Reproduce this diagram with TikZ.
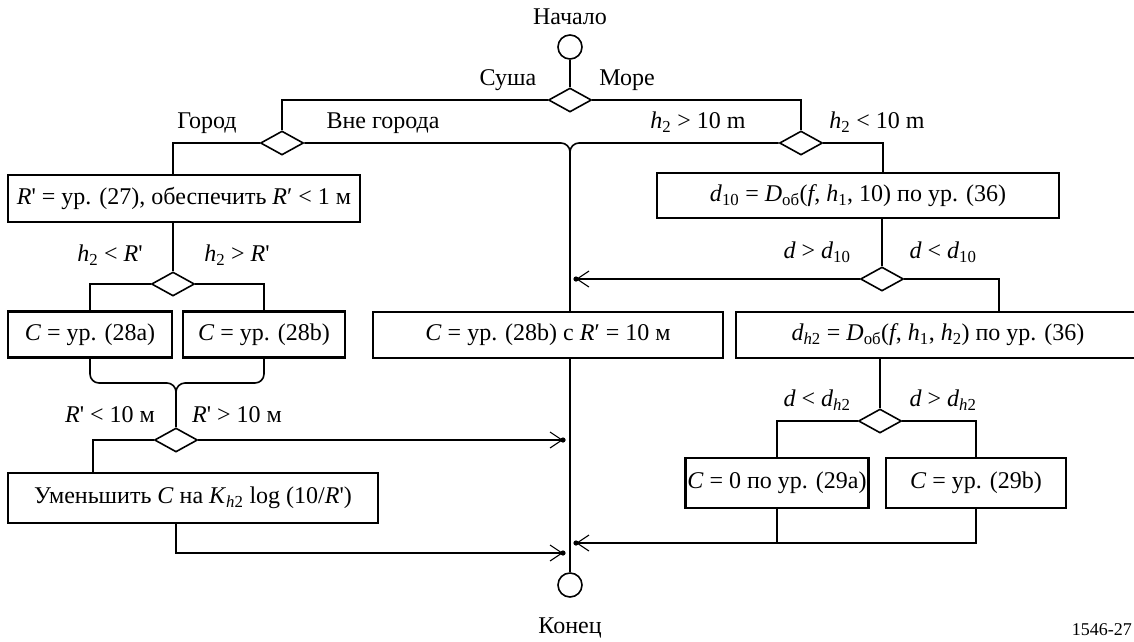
\documentclass[tikz,border=0pt]{standalone}
\usepackage{fontspec}
\setmainfont{Liberation Serif}
\usetikzlibrary{shapes.geometric,arrows.meta}
\newcommand{\lw}[1]{\textsubscript{#1}}
\newcommand{\iv}[1]{\textit{#1}}
\newcommand{\ap}{\textquotesingle}
\begin{document}
\begin{tikzpicture}[x=1pt,y=-1pt,
  font=\fontsize{24}{28}\selectfont,
  box/.style={draw,line width=2.1pt,inner sep=0pt,minimum height=46pt},
  dec/.style={draw,diamond,line width=1.6pt,inner sep=0pt,minimum width=43pt,minimum height=24pt},
  term/.style={draw,circle,line width=1.6pt,inner sep=0pt,minimum size=24pt},
  conn/.style={line width=1.6pt},
  arr/.style={conn,-{Straight Barb[length=12pt,width=16pt,line width=1.1pt]}},
  lbl/.style={inner sep=0pt}]
\useasboundingbox (0,0) rectangle (1134,641);
\clip (0,0) rectangle (1134,641);
% terminals
\node[term] (S) at (570,47) {};
\node[term] (E) at (570,585) {};
\node[lbl] (tS) at (570,17) {Начало};
\node[lbl] (tE) at (570,628) {Конец};
% decisions
\node[dec] (D1) at (570,100) {};
\node[dec] (D2) at (282,143) {};
\node[dec] (D3) at (801,143) {};
\node[dec] (D4) at (173,284) {};
\node[dec] (D5) at (176,440) {};
\node[dec] (D6) at (882,279) {};
\node[dec] (D7) at (880,421) {};
% boxes
\node[box,minimum width=352pt,minimum height=47pt] (B27) at (184,198.5) {\iv{R}\ap{} = ур. (27), обеспечить \iv{R}′ < 1 м};
\node[box,minimum width=164pt] (B28a) at (90,334.5) {\iv{C} = ур. (28a)};
\node[box,minimum width=162pt] (B28b) at (264,334.5) {\iv{C} = ур. (28b)};
\node[box,minimum width=370pt,minimum height=50pt] (BUm) at (193,498) {Уменьшить \iv{C} на \iv{K}\lw{\iv{h}2} log (10/\iv{R}\ap)};
\node[box,minimum width=350pt] (B28bR) at (548,335) {\iv{C} = ур. (28b) с \iv{R}′ = 10 м};
\node[box,minimum width=402pt,minimum height=45pt] (B10) at (858,195.5) {\iv{d}\lw{10} = \iv{D}\lw{об}(\iv{f}, \iv{h}\lw{1}, 10) по ур. (36)};
\node[box,minimum width=404pt] (Bdh) at (938,335) {\iv{d}\lw{\iv{h}2} = \iv{D}\lw{об}(\iv{f}, \iv{h}\lw{1}, \iv{h}\lw{2}) по ур. (36)};
\node[box,minimum width=183pt,minimum height=50pt] (B29a) at (777,483) {\iv{C} = 0 по ур. (29a)};
\node[box,minimum width=180pt,minimum height=50pt] (B29b) at (976,483) {\iv{C} = ур. (29b)};
% labels
\node[lbl] (l1) at (508,80) {Суша};
\node[lbl] (l2) at (627,80) {Море};
\node[lbl] (l3) at (207,123) {Город};
\node[lbl] (l4) at (383,123) {Вне города};
\node[lbl] (l5) at (698,122) {\iv{h}\lw{2} > 10 m};
\node[lbl] (l6) at (877,122) {\iv{h}\lw{2} < 10 m};
\node[lbl] (l7) at (110,255) {\iv{h}\lw{2} < \iv{R}\ap};
\node[lbl] (l8) at (237,255) {\iv{h}\lw{2} > \iv{R}\ap};
\node[lbl] (l9) at (110,415) {\iv{R}\ap{} < 10 м};
\node[lbl] (l10) at (237,415) {\iv{R}\ap{} > 10 м};
\node[lbl] (l11) at (817,252) {\iv{d} > \iv{d}\lw{10}};
\node[lbl] (l12) at (943,252) {\iv{d} < \iv{d}\lw{10}};
\node[lbl] (l13) at (817,400) {\iv{d} < \iv{d}\lw{\iv{h}2}};
\node[lbl] (l14) at (943,400) {\iv{d} > \iv{d}\lw{\iv{h}2}};
\node[lbl,anchor=east,font=\fontsize{18}{21}\selectfont] (fig) at (1132,630) {1546-27};
% junction and corner coordinates
\coordinate (J1) at (570,143);
\coordinate (J2) at (176,383);
\coordinate (K2) at (173,143);
\coordinate (K3) at (883,143);
\coordinate (K5) at (93,440);
\coordinate (K6) at (999,279);
\coordinate (A1) at (576,279);
\coordinate (A2) at (563,440);
\coordinate (A3) at (563,553);
\coordinate (A4) at (576,543);
% connectors
\draw[conn] (S) -- (D1.north);
\draw[conn] (D1.west) -| (D2.north);
\draw[conn] (D1.east) -| (D3.north);
\draw[conn] (D2.west) -- (K2) -- (K2 |- B27.north);
\draw[conn,rounded corners=9pt] (D2.east) -- (J1) -- (B28bR.north -| J1);
\draw[conn,rounded corners=9pt] (D3.west) -- (J1) -- ++(0,14);
\draw[conn] (D3.east) -- (K3) -- (K3 |- B10.north);
\draw[conn] (B27.south -| D4) -- (D4.north);
\draw[conn] (D4.west) -| (B28a.north);
\draw[conn] (D4.east) -| (B28b.north);
\draw[conn,rounded corners=9pt] (B28a.south) |- (J2) -- (D5.north);
\draw[conn,rounded corners=9pt] (B28b.south) |- (J2) -- ++(0,12);
\draw[arr] (D5.east) -- (A2);
\draw[conn] (D5.west) -- (K5) -- (K5 |- BUm.north);
\draw[arr] (BUm.south -| D5) |- (A3);
\draw[conn] (B10.south -| D6) -- (D6.north);
\draw[arr] (D6.west) -- (A1);
\draw[conn] (D6.east) -- (K6) -- (K6 |- Bdh.north);
\draw[conn] (Bdh.south -| D7) -- (D7.north);
\draw[conn] (D7.west) -| (B29a.north);
\draw[conn] (D7.east) -| (B29b.north);
\draw[conn] (B29a.south) -- (B29a.south |- A4);
\draw[arr] (B29b.south) |- (A4);
\draw[conn] (B28bR.south -| J1) -- (E.north);
\foreach \p in {A1,A2,A3,A4} \fill (\p) circle (2.6pt);
\end{tikzpicture}
\end{document}
